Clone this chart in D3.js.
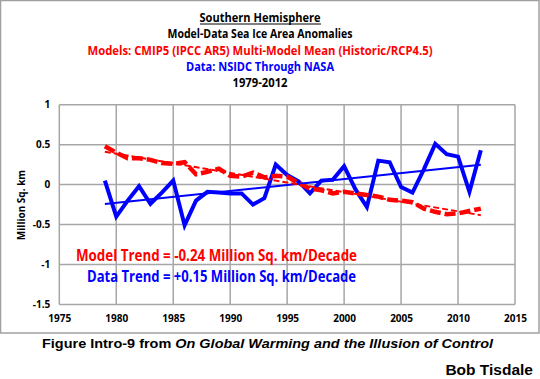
<!DOCTYPE html>
<html><head><meta charset="utf-8">
<script src="https://cdn.jsdelivr.net/npm/d3@7"></script>
<style>body{margin:0;background:#fff}</style>
</head><body>
<svg id="c" width="540" height="379"></svg>
<script>
const years = [1979,1980,1981,1982,1983,1984,1985,1986,1987,1988,1989,1990,1991,1992,1993,1994,1995,1996,1997,1998,1999,2000,2001,2002,2003,2004,2005,2006,2007,2008,2009,2010,2011,2012];
const dataValues = [0.05,-0.40,-0.20,-0.02,-0.24,-0.10,0.05,-0.51,-0.20,-0.09,-0.10,-0.11,-0.11,-0.25,-0.17,0.25,0.12,0.04,-0.11,0.05,0.06,0.23,-0.06,-0.28,0.30,0.28,-0.03,-0.10,0.19,0.51,0.38,0.35,-0.09,0.43];
const modelValues = [0.48,0.40,0.33,0.33,0.31,0.27,0.26,0.28,0.13,0.16,0.20,0.11,0.10,0.15,0.09,0.11,0.10,0.02,-0.05,-0.07,-0.11,-0.09,-0.11,-0.13,-0.15,-0.19,-0.20,-0.22,-0.30,-0.34,-0.37,-0.36,-0.33,-0.30];
const xTicks = [1975,1980,1985,1990,1995,2000,2005,2010,2015];
const yTicks = [1,0.5,0,-0.5,-1,-1.5];
const yTickLabels = ["1","0.5","0","-0.5","-1","-1.5"];
const titleLines = ["Southern Hemisphere","Model-Data Sea Ice Area Anomalies","Models: CMIP5 (IPCC AR5) Multi-Model Mean (Historic/RCP4.5)","Data: NSIDC Through NASA","1979-2012"];
const modelTrendText = "Model Trend = -0.24 Million Sq. km/Decade";
const dataTrendText = "Data Trend = +0.15 Million Sq. km/Decade";

const svg = d3.select("#c");
const x = d3.scaleLinear().domain([1975,2015]).range([59.3,515]);
const y = d3.scaleLinear().domain([-1.5,1]).range([304.5,104.7]);
const cal = "'Open Sans','Noto Sans',sans-serif";

// outer border
svg.append("rect").attr("x",0.5).attr("y",0.5).attr("width",538.5).attr("height",332.5)
  .attr("fill","#fff").attr("stroke","#a0a0a0").attr("stroke-width",1.5);

// grid
const g = svg.append("g");
g.selectAll(".hg").data(yTicks).join("line")
  .attr("x1",x(1975)).attr("x2",x(2015)).attr("y1",d=>y(d)).attr("y2",d=>y(d))
  .attr("stroke","#a6a6a6").attr("stroke-width",1.5);
g.selectAll(".vg").data(xTicks).join("line")
  .attr("x1",d=>x(d)).attr("x2",d=>x(d)).attr("y1",y(1)).attr("y2",y(-1.5))
  .attr("stroke","#a6a6a6").attr("stroke-width",1.5);

// axes labels
const yAxis = d3.axisLeft(y).tickValues(yTicks).tickSize(0).tickPadding(9).tickFormat((d,i)=>yTickLabels[i]);
const ya = svg.append("g").attr("transform",`translate(${x(1975)},0)`).call(yAxis);
ya.select(".domain").remove();
ya.selectAll("text").attr("font-family",cal).attr("font-weight","bold").attr("font-size",10).attr("fill","#000");

const xAxis = d3.axisBottom(x).tickValues(xTicks).tickSize(0).tickPadding(10).tickFormat(d3.format("d"));
const xa = svg.append("g").attr("transform",`translate(0,${y(-1.5)})`).call(xAxis);
xa.select(".domain").remove();
xa.selectAll("text").attr("font-family",cal).attr("font-weight","bold").attr("font-size",10).attr("fill","#000");

svg.append("text").attr("transform","translate(25,205) rotate(-90)").attr("text-anchor","middle")
  .attr("font-family",cal).attr("font-weight","bold").attr("font-size",10).text("Million Sq. km");

// regression
function fit(xs, ys){
  const mx=d3.mean(xs), my=d3.mean(ys);
  let sxy=0,sxx=0; xs.forEach((v,i)=>{sxy+=(v-mx)*(ys[i]-my); sxx+=(v-mx)*(v-mx);});
  const b=sxy/sxx; return t=>my+b*(t-mx);
}
const fd = fit(years,dataValues), fm = fit(years,modelValues);
const line = d3.line().x(d=>x(d[0])).y(d=>y(d[1]));

svg.append("path").datum(years.map((t,i)=>[t,dataValues[i]])).attr("d",line)
  .attr("fill","none").attr("stroke","#0000ff").attr("stroke-width",4).attr("stroke-linejoin","miter");
svg.append("path").datum(years.map((t,i)=>[t,modelValues[i]])).attr("d",line)
  .attr("fill","none").attr("stroke","#ff0000").attr("stroke-width",4.5).attr("stroke-dasharray","11,4");
const ends=[years[0],years[years.length-1]];
svg.append("path").datum(ends.map(t=>[t,fd(t)])).attr("d",line)
  .attr("fill","none").attr("stroke","#0000ff").attr("stroke-width",2);
svg.append("path").datum(ends.map(t=>[t,fm(t)])).attr("d",line)
  .attr("fill","none").attr("stroke","#ff0000").attr("stroke-width",2).attr("stroke-dasharray","6,3");

// titles
const tcol=["#000","#000","#ff0000","#0000ff","#000"];
const tw=[121,185,345,148,55];
const ty=[21.5,38,54.5,71,87];
titleLines.forEach((s,i)=>{
  svg.append("text").attr("x",260).attr("y",ty[i]).attr("text-anchor","middle")
    .attr("font-family",cal).attr("font-weight","bold").attr("font-size",11.5)
    .attr("fill",tcol[i]).attr("textLength",tw[i]).attr("lengthAdjust","spacingAndGlyphs").text(s);
});
svg.append("line").attr("x1",200).attr("x2",321).attr("y1",24).attr("y2",24).attr("stroke","#000").attr("stroke-width",1);

svg.append("text").attr("x",76).attr("y",261).attr("font-family",cal).attr("font-weight","bold").attr("font-size",16)
  .attr("fill","#ff0000").attr("textLength",281).attr("lengthAdjust","spacingAndGlyphs").text(modelTrendText);
svg.append("text").attr("x",87).attr("y",282).attr("font-family",cal).attr("font-weight","bold").attr("font-size",16)
  .attr("fill","#0000ff").attr("textLength",269).attr("lengthAdjust","spacingAndGlyphs").text(dataTrendText);

// caption
const cap = svg.append("text").attr("x",42).attr("y",348).attr("font-family","'Liberation Sans',Arial,sans-serif")
  .attr("font-weight","bold").attr("font-size",13.5).attr("textLength",451).attr("lengthAdjust","spacingAndGlyphs");
cap.append("tspan").text("Figure Intro-9 from ");
cap.append("tspan").attr("font-style","italic").text("On Global Warming and the Illusion of Control");
svg.append("text").attr("x",533).attr("y",375).attr("text-anchor","end").attr("font-family","'Liberation Sans',Arial,sans-serif")
  .attr("font-weight","bold").attr("font-size",15.5).text("Bob Tisdale");
</script>
</body></html>
